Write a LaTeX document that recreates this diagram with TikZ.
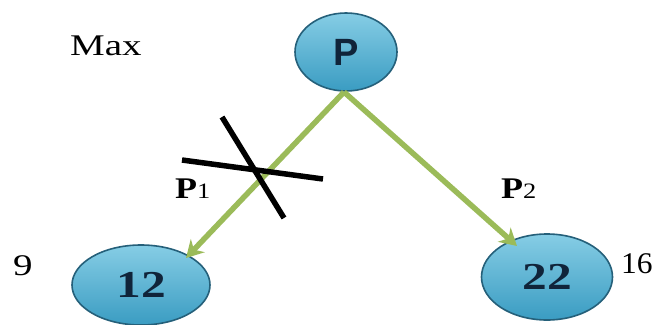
\documentclass[tikz,border=0pt]{standalone}
\usepackage{graphicx}
\usepackage{fontspec}
\setmainfont{Liberation Serif}
\newfontfamily\sansb{Liberation Sans}
\usetikzlibrary{shapes.geometric,arrows.meta}
\definecolor{ballTop}{HTML}{86CDE5}
\definecolor{ballBot}{HTML}{3A9CC2}
\definecolor{ballEdge}{HTML}{25607A}
\definecolor{arrowGreen}{HTML}{9BBB59}
\definecolor{txtNavy}{HTML}{10243A}
\newcommand{\hs}[2]{\scalebox{#1}[1]{#2}}
\tikzset{
  ball/.style={ellipse, draw=ballEdge, line width=1.6pt, top color=ballTop, bottom color=ballBot, inner sep=0pt, font=\bfseries\fontsize{38}{38}\selectfont, text=txtNavy},
  edge/.style={draw=arrowGreen, line width=5.5pt, -{Stealth[length=17pt,width=19pt]}},
  crossline/.style={draw=black, line width=5.5pt},
  lbl/.style={inner sep=0pt, font=\fontsize{30}{30}\selectfont}
}
\begin{document}
\begin{tikzpicture}[x=1pt,y=-1pt]
\useasboundingbox (0,0) rectangle (663,324);
\node[ball, minimum width=102pt, minimum height=78pt] (p) at (346,52) {\raisebox{-5pt}{\sansb\bfseries\fontsize{38}{38}\selectfont P}};
\node[ball, minimum width=138pt, minimum height=80pt] (a) at (141,285) {\raisebox{-6pt}{\hs{1.3}{12}}};
\node[ball, minimum width=131pt, minimum height=86pt] (b) at (547,277) {\hs{1.3}{22}};
\coordinate (ps) at (344,92);
\coordinate (at) at (186,258);
\coordinate (bt) at (517,246);
\draw[edge] (ps) -- (at);
\draw[edge] (ps) -- (bt);
\coordinate (c1a) at (222,117);
\coordinate (c1b) at (284,218);
\coordinate (c2a) at (182,160);
\coordinate (c2b) at (323,179);
\draw[crossline] (c1a) -- (c1b);
\draw[crossline] (c2a) -- (c2b);
\node[lbl, anchor=base west] (max) at (70,55) {\hs{1.3}{Max}};
\node[lbl, anchor=base west] (p1) at (175,198) {\hs{1.2}{\textbf{P}\fontsize{22}{22}\selectfont1}};
\node[lbl, anchor=base west] (p2) at (501,198) {\hs{1.2}{\textbf{P}\fontsize{22}{22}\selectfont2}};
\node[lbl, anchor=base west] (n9) at (13,275) {\hs{1.3}{9}};
\node[lbl, anchor=base west] (n16) at (621,273) {\hs{1.05}{16}};
\end{tikzpicture}
\end{document}
